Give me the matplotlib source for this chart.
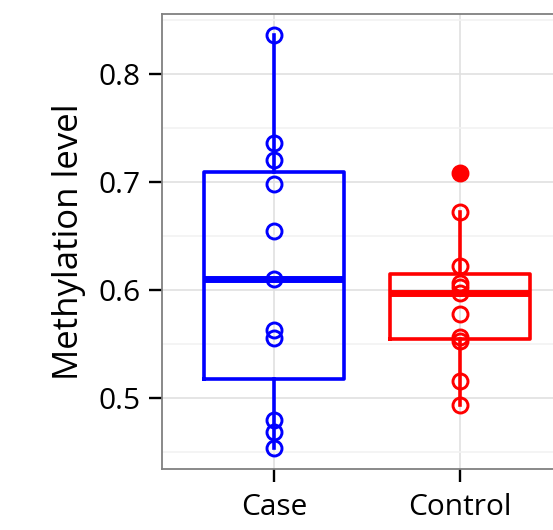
import matplotlib
matplotlib.use("Agg")
import matplotlib.pyplot as plt
import numpy as np
from matplotlib.ticker import MultipleLocator

groups = ["Case", "Control"]
colors = ["#0000ff", "#ff0000"]

case_vals = [0.8362, 0.7356, 0.7202, 0.6982, 0.6543, 0.6098,
             0.5632, 0.5556, 0.4795, 0.4682, 0.4535]
control_vals = [0.7086, 0.6718, 0.6221, 0.6068, 0.6031, 0.5976,
                0.5777, 0.5562, 0.5531, 0.5154, 0.4939]
data = [case_vals, control_vals]

plt.rcParams["font.family"] = ["Open Sans", "DejaVu Sans"]

fig = plt.figure(figsize=(5.53, 5.30), dpi=100)
ax = fig.add_axes([162 / 553, 61 / 530, 410 / 553, 455 / 530])

pos = np.arange(1, len(groups) + 1)
for i, (vals, col) in enumerate(zip(data, colors)):
    ax.boxplot(vals, positions=[pos[i]], widths=0.75, whis=1.5,
               patch_artist=False, manage_ticks=False,
               boxprops=dict(color=col, linewidth=2.6),
               whiskerprops=dict(color=col, linewidth=2.6),
               capprops=dict(linewidth=0),
               medianprops=dict(color=col, linewidth=5, solid_capstyle="butt"),
               flierprops=dict(marker="o", markerfacecolor=col, markeredgecolor=col,
                               markersize=12, markeredgewidth=0),
               zorder=3)
    ax.plot(np.full(len(vals), pos[i]), vals, linestyle="none", marker="o",
            markersize=10.8, markerfacecolor="none", markeredgecolor=col,
            markeredgewidth=2.1, zorder=4)

allv = np.concatenate(data)
lo, hi = allv.min(), allv.max()
pad = (hi - lo) * 0.05
ax.set_xlim(0.4, len(groups) + 0.6)

ax.yaxis.set_major_locator(MultipleLocator(0.1))
ax.yaxis.set_minor_locator(MultipleLocator(0.05))
ax.set_xticks(pos)
ax.set_xticklabels(groups)
ax.set_ylim(lo - pad, hi + pad)
ax.yaxis.set_major_formatter(plt.FuncFormatter(lambda v, p: f"{v:.1f}"))

ax.grid(which="major", color="#e0e0e0", linewidth=1.2, zorder=0)
ax.grid(which="minor", axis="y", color="#f2f2f2", linewidth=1.2, zorder=0)
ax.set_axisbelow(True)

for s in ax.spines.values():
    s.set_color("#808080")
    s.set_linewidth(1.3)

ax.tick_params(axis="both", which="major", length=9.5, width=1.7, color="black",
               labelsize=21.5, pad=6)
ax.tick_params(axis="x", pad=8)
ax.tick_params(axis="both", which="minor", length=0)
ax.set_ylabel("Methylation level", fontsize=25, labelpad=9)

fig.savefig("out.png", dpi=100)
